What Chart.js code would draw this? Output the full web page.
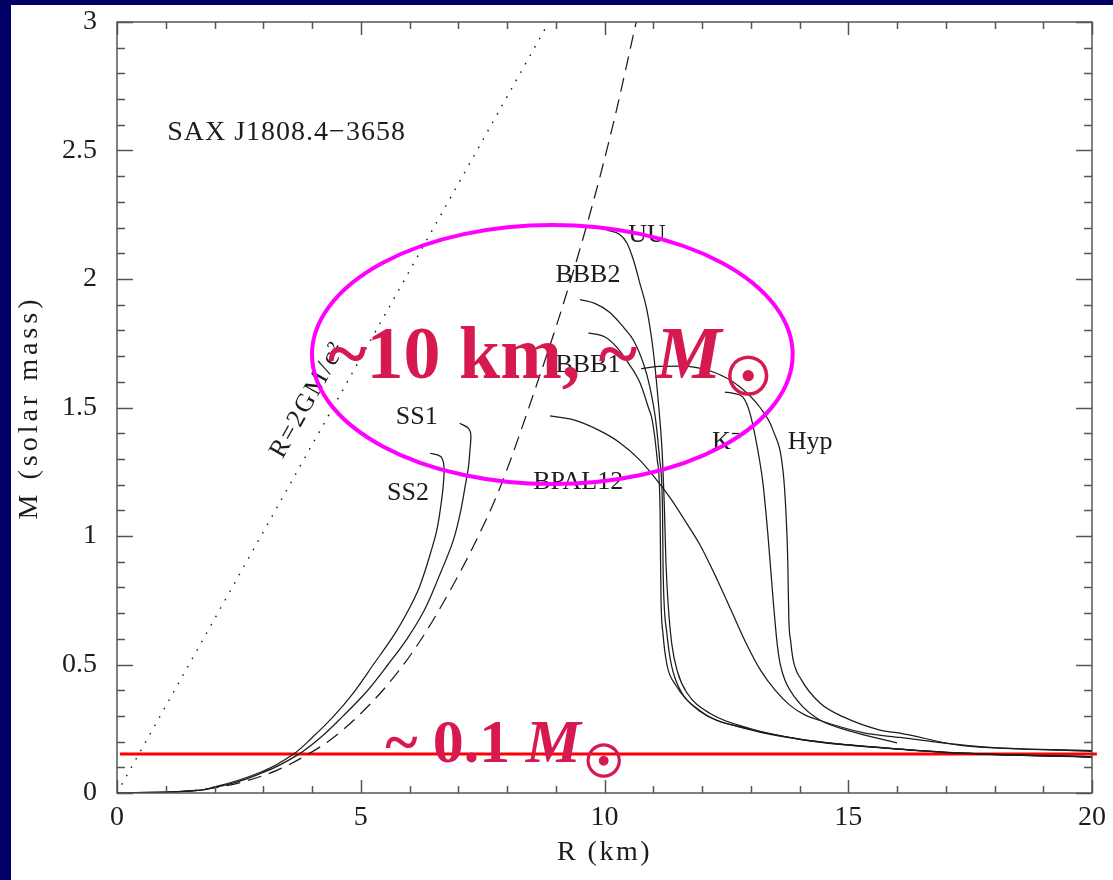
<!DOCTYPE html>
<html><head><meta charset="utf-8">
<script src="https://cdn.jsdelivr.net/npm/chart.js@4.4.0/dist/chart.umd.min.js"></script>
<style>html,body{margin:0;padding:0;background:#fff;overflow:hidden}canvas{display:block}</style>
</head><body>
<canvas id="c" width="1113" height="880"></canvas>
<script>
// ---- axis ticks ----
const xTickVals = [0, 5, 10, 15, 20];
const yTickVals = [0, 0.5, 1, 1.5, 2, 2.5, 3];

// ---- series (R in km, M in solar masses) ----
const SCH_R = [0, 8.86];
const SCH_M = [0, 3.0];

const CAUS_R = [0, 1.0, 2.0, 2.67, 3.3, 3.82, 4.4, 4.95, 5.5, 6.07, 6.6, 7.31, 7.86, 8.62, 9.2, 9.74, 10.2, 10.65];
const CAUS_M = [0, 0.0025, 0.02, 0.048, 0.09, 0.14, 0.21, 0.30, 0.41, 0.55, 0.71, 0.96, 1.19, 1.595, 1.93, 2.28, 2.62, 3.0];

const SS1_R = [7.03, 7.21, 7.26, 7.24, 7.21, 7.14, 7.04, 6.9, 6.6, 6.3, 5.95, 5.56, 5.1, 4.64, 4.2, 3.72, 3.0, 2.0, 1.0, 0];
const SS1_M = [1.439, 1.419, 1.386, 1.335, 1.27, 1.192, 1.088, 0.984, 0.84, 0.71, 0.60, 0.50, 0.39, 0.30, 0.22, 0.15, 0.08, 0.022, 0.003, 0];

const SS2_R = [6.42, 6.59, 6.68, 6.71, 6.69, 6.64, 6.56, 6.46, 6.2, 6.0, 5.7, 5.26, 4.85, 4.45, 4.0, 3.61, 3.0, 2.0, 1.0, 0];
const SS2_M = [1.322, 1.315, 1.296, 1.257, 1.192, 1.114, 1.023, 0.952, 0.80, 0.72, 0.62, 0.50, 0.39, 0.30, 0.215, 0.15, 0.085, 0.024, 0.003, 0];

const UU_R = [10.05, 10.3, 10.46, 10.6, 10.73, 10.87, 11.0, 11.1, 11.18, 11.23, 11.26, 11.3, 11.38, 11.5, 11.69, 12.16, 13.0, 14.0, 15.0, 16.0, 17.35, 20];
const UU_M = [2.19, 2.175, 2.14, 2.07, 1.98, 1.88, 1.72, 1.53, 1.335, 1.1, 0.9, 0.75, 0.58, 0.47, 0.39, 0.31, 0.25, 0.21, 0.187, 0.172, 0.155, 0.14];

const BBB2_R = [9.5, 9.8, 10.11, 10.4, 10.6, 10.8, 10.93, 11.05, 11.13, 11.19, 11.2, 11.22, 11.28, 11.35, 11.48, 11.96, 13.0, 14.0, 15.0, 16.0, 17.35, 20];
const BBB2_M = [1.92, 1.905, 1.87, 1.81, 1.76, 1.67, 1.58, 1.45, 1.3, 1.1, 0.9, 0.75, 0.62, 0.52, 0.43, 0.32, 0.248, 0.21, 0.188, 0.172, 0.155, 0.141];

const BBB1_R = [9.67, 10.0, 10.25, 10.5, 10.73, 10.9, 10.98, 11.08, 11.14, 11.15, 11.16, 11.2, 11.28, 11.46, 11.94, 13.0, 14.0, 15.0, 16.0, 17.35, 20];
const BBB1_M = [1.79, 1.775, 1.735, 1.67, 1.595, 1.5, 1.45, 1.3, 1.1, 0.9, 0.75, 0.62, 0.5, 0.42, 0.32, 0.246, 0.209, 0.186, 0.171, 0.154, 0.139];

const BPAL12_R = [8.88, 9.4, 9.9, 10.3, 10.7, 11.0, 11.34, 11.65, 11.96, 12.3, 12.6, 12.9, 13.2, 13.5, 13.8, 14.1, 14.42, 15.3, 16.06, 17.7, 20];
const BPAL12_M = [1.467, 1.45, 1.41, 1.365, 1.30, 1.235, 1.15, 1.06, 0.965, 0.835, 0.71, 0.585, 0.478, 0.40, 0.342, 0.305, 0.282, 0.235, 0.216, 0.18, 0.162];

const K_R = [12.47, 12.65, 12.84, 12.98, 13.1, 13.19, 13.25, 13.35, 13.46, 13.54, 13.6, 13.7, 14.0, 14.42, 14.97, 16.0];
const K_M = [1.56, 1.555, 1.54, 1.48, 1.38, 1.284, 1.206, 1.01, 0.75, 0.584, 0.505, 0.44, 0.35, 0.284, 0.245, 0.195];

const HYP_R = [10.75, 11.1, 11.55, 12.23, 12.78, 13.19, 13.46, 13.66, 13.72, 13.76, 13.78, 13.82, 13.87, 14.04, 14.42, 14.9, 15.65, 16.06, 17.35, 20];
const HYP_M = [1.65, 1.66, 1.661, 1.638, 1.58, 1.50, 1.41, 1.257, 1.10, 0.9, 0.685, 0.59, 0.518, 0.44, 0.35, 0.296, 0.245, 0.233, 0.184, 0.165];

const LIMIT_R = [0.06, 20.1];
const LIMIT_M = [0.152, 0.152];

// ---- text annotations (label, R, M) ----
const curveLabels = ['UU', 'BBB2', 'BBB1', 'BPAL12', 'K\u207B', 'Hyp', 'SS1', 'SS2'];
const curveLabelR = [10.87, 9.66, 9.66, 9.46, 12.49, 14.22, 6.15, 5.97];
const curveLabelM = [2.171, 2.016, 1.665, 1.21, 1.366, 1.366, 1.463, 1.167];

function pts(R, M) { return R.map((r, i) => ({ x: r, y: M[i] })); }

const INK = '#1c1c1c';
function curve(label, R, M, extra) {
  return Object.assign({
    label, data: pts(R, M), showLine: true, pointRadius: 0,
    borderColor: INK, borderWidth: 1.25, cubicInterpolationMode: 'monotone', fill: false
  }, extra || {});
}
// strange-star branches are single-valued in M, so interpolate along the M axis
const alongM = { indexAxis: 'y' };

const datasets = [
  curve('R=2GM/c\u00B2', SCH_R, SCH_M, { borderDash: [1.6, 8], cubicInterpolationMode: 'default', tension: 0, borderWidth: 1.4 }),
  curve('causality', CAUS_R, CAUS_M, { borderDash: [14, 8] }),
  curve('SS1', SS1_R, SS1_M, alongM),
  curve('SS2', SS2_R, SS2_M, alongM),
  curve('UU', UU_R, UU_M),
  curve('BBB2', BBB2_R, BBB2_M),
  curve('BBB1', BBB1_R, BBB1_M),
  curve('BPAL12', BPAL12_R, BPAL12_M),
  curve('K-', K_R, K_M),
  curve('Hyp', HYP_R, HYP_M),
  curve('0.1 Msun', LIMIT_R, LIMIT_M, { borderColor: '#ff0000', borderWidth: 3, cubicInterpolationMode: 'default', tension: 0, clip: 8 })
];

const SERIF = '"Liberation Serif", "Times New Roman", serif';

const decor = {
  id: 'decor',
  beforeDraw(chart) {
    const ctx = chart.ctx;
    ctx.save();
    ctx.fillStyle = '#ffffff';
    ctx.fillRect(0, 0, chart.width, chart.height);
    ctx.fillStyle = '#000066';
    ctx.fillRect(0, 0, 11, chart.height);
    ctx.fillRect(0, 0, chart.width, 5);
    ctx.restore();
  },
  afterDraw(chart) {
    const ctx = chart.ctx, a = chart.chartArea;
    const xs = chart.scales.x, ys = chart.scales.y;
    ctx.save();
    // frame
    ctx.strokeStyle = '#555';
    ctx.lineWidth = 1.5;
    ctx.strokeRect(a.left, a.top, a.right - a.left, a.bottom - a.top);
    // inward ticks
    ctx.beginPath();
    for (let i = 0; i <= 20; i++) {
      const px = Math.round(xs.getPixelForValue(i)) + 0.5;
      const L = (i % 5 === 0) ? 13 : 7;
      ctx.moveTo(px, a.bottom); ctx.lineTo(px, a.bottom - L);
      ctx.moveTo(px, a.top); ctx.lineTo(px, a.top + L);
    }
    for (let j = 0; j <= 30; j++) {
      const py = Math.round(ys.getPixelForValue(j / 10)) + 0.5;
      const L = (j % 5 === 0) ? 16 : 8;
      ctx.moveTo(a.left, py); ctx.lineTo(a.left + L, py);
      ctx.moveTo(a.right, py); ctx.lineTo(a.right - L, py);
    }
    ctx.stroke();

    // axis titles
    ctx.fillStyle = INK;
    ctx.font = '28px ' + SERIF;
    ctx.textAlign = 'center';
    ctx.textBaseline = 'middle';
    ctx.letterSpacing = '2.5px';
    ctx.fillText('R (km)', xs.getPixelForValue(10), a.bottom + 60);
    ctx.save();
    ctx.translate(a.left - 87, ys.getPixelForValue(1.5));
    ctx.rotate(-Math.PI / 2);
    ctx.letterSpacing = '4px';
    ctx.fillText('M (solar mass)', 0, 0);
    ctx.restore();

    // object name
    ctx.letterSpacing = '1px';
    ctx.textAlign = 'left';
    ctx.fillText('SAX J1808.4\u22123658', xs.getPixelForValue(1.03), ys.getPixelForValue(2.568));

    // curve labels
    ctx.letterSpacing = '0px';
    ctx.font = '26px ' + SERIF;
    ctx.textAlign = 'center';
    curveLabels.forEach((t, i) => {
      ctx.fillText(t, xs.getPixelForValue(curveLabelR[i]), ys.getPixelForValue(curveLabelM[i]));
    });
    // Schwarzschild label along dotted line
    const p0x = xs.getPixelForValue(SCH_R[0]), p0y = ys.getPixelForValue(SCH_M[0]);
    const p1x = xs.getPixelForValue(SCH_R[1]), p1y = ys.getPixelForValue(SCH_M[1]);
    const ang = Math.atan2(p1y - p0y, p1x - p0x);
    ctx.save();
    ctx.translate(xs.getPixelForValue(3.92), ys.getPixelForValue(1.53));
    ctx.rotate(ang);
    ctx.letterSpacing = '2px';
    ctx.fillText('R=2GM/c\u00B2', 0, 0);
    ctx.restore();

    // ellipse highlight
    const cx = xs.getPixelForValue(8.93), cy = ys.getPixelForValue(1.706);
    const rx = xs.getPixelForValue(8.93 + 4.93) - cx;
    const ry = cy - ys.getPixelForValue(1.706 + 0.504);
    ctx.beginPath();
    ctx.ellipse(cx, cy, rx, ry, 0, 0, Math.PI * 2);
    ctx.strokeStyle = '#ff00ff';
    ctx.lineWidth = 4;
    ctx.stroke();

    // big annotations
    ctx.fillStyle = '#d6194f';
    ctx.strokeStyle = '#d6194f';
    ctx.textAlign = 'left';
    ctx.textBaseline = 'alphabetic';
    ctx.letterSpacing = '0px';
    function bigText(pre, size, R, M, dy) {
      let x = xs.getPixelForValue(R);
      const y = ys.getPixelForValue(M);
      ctx.font = 'bold ' + size + 'px ' + SERIF;
      ctx.fillText(pre, x, y);
      x += ctx.measureText(pre).width;
      ctx.font = 'italic bold ' + size + 'px ' + SERIF;
      ctx.fillText('M', x, y);
      x += ctx.measureText('M').width;
      ctx.font = 'bold ' + Math.round(size * 0.72) + 'px "DejaVu Sans"';
      ctx.textBaseline = 'middle';
      ctx.lineWidth = 1.6;
      ctx.fillText('\u2609', x + size * 0.04, y + dy);
      ctx.strokeText('\u2609', x + size * 0.04, y + dy);
      ctx.textBaseline = 'alphabetic';
    }
    bigText('~10 km, ~ ', 74, 4.33, 1.615, 3);
    bigText('~ 0.1 ', 62, 5.50, 0.1206, 3);
    ctx.restore();
  }
};

new Chart(document.getElementById('c'), {
  type: 'scatter',
  data: { datasets },
  options: {
    responsive: false,
    animation: false,
    devicePixelRatio: 1,
    layout: { padding: { left: 0, top: 22, right: 21, bottom: 0 } },
    plugins: { legend: { display: false }, tooltip: { enabled: false } },
    scales: {
      x: {
        type: 'linear', min: 0, max: 20,
        afterBuildTicks: s => { s.ticks = xTickVals.map(v => ({ value: v })); },
        afterFit: s => { s.height = 87; s.paddingLeft = 0; s.paddingRight = 0; },
        grid: { display: false, drawTicks: false },
        border: { display: false },
        ticks: { padding: 8, color: INK, font: { family: SERIF, size: 28 }, maxRotation: 0, autoSkip: false, callback: v => String(+v) }
      },
      y: {
        type: 'linear', min: 0, max: 3,
        afterBuildTicks: s => { s.ticks = yTickVals.map(v => ({ value: v })); },
        afterFit: s => { s.width = 117; s.paddingTop = 0; s.paddingBottom = 0; },
        grid: { display: false, drawTicks: false },
        border: { display: false },
        ticks: { padding: 20, color: INK, font: { family: SERIF, size: 28 }, autoSkip: false, callback: v => String(+v) }
      }
    }
  },
  plugins: [decor]
});
</script>
</body></html>
